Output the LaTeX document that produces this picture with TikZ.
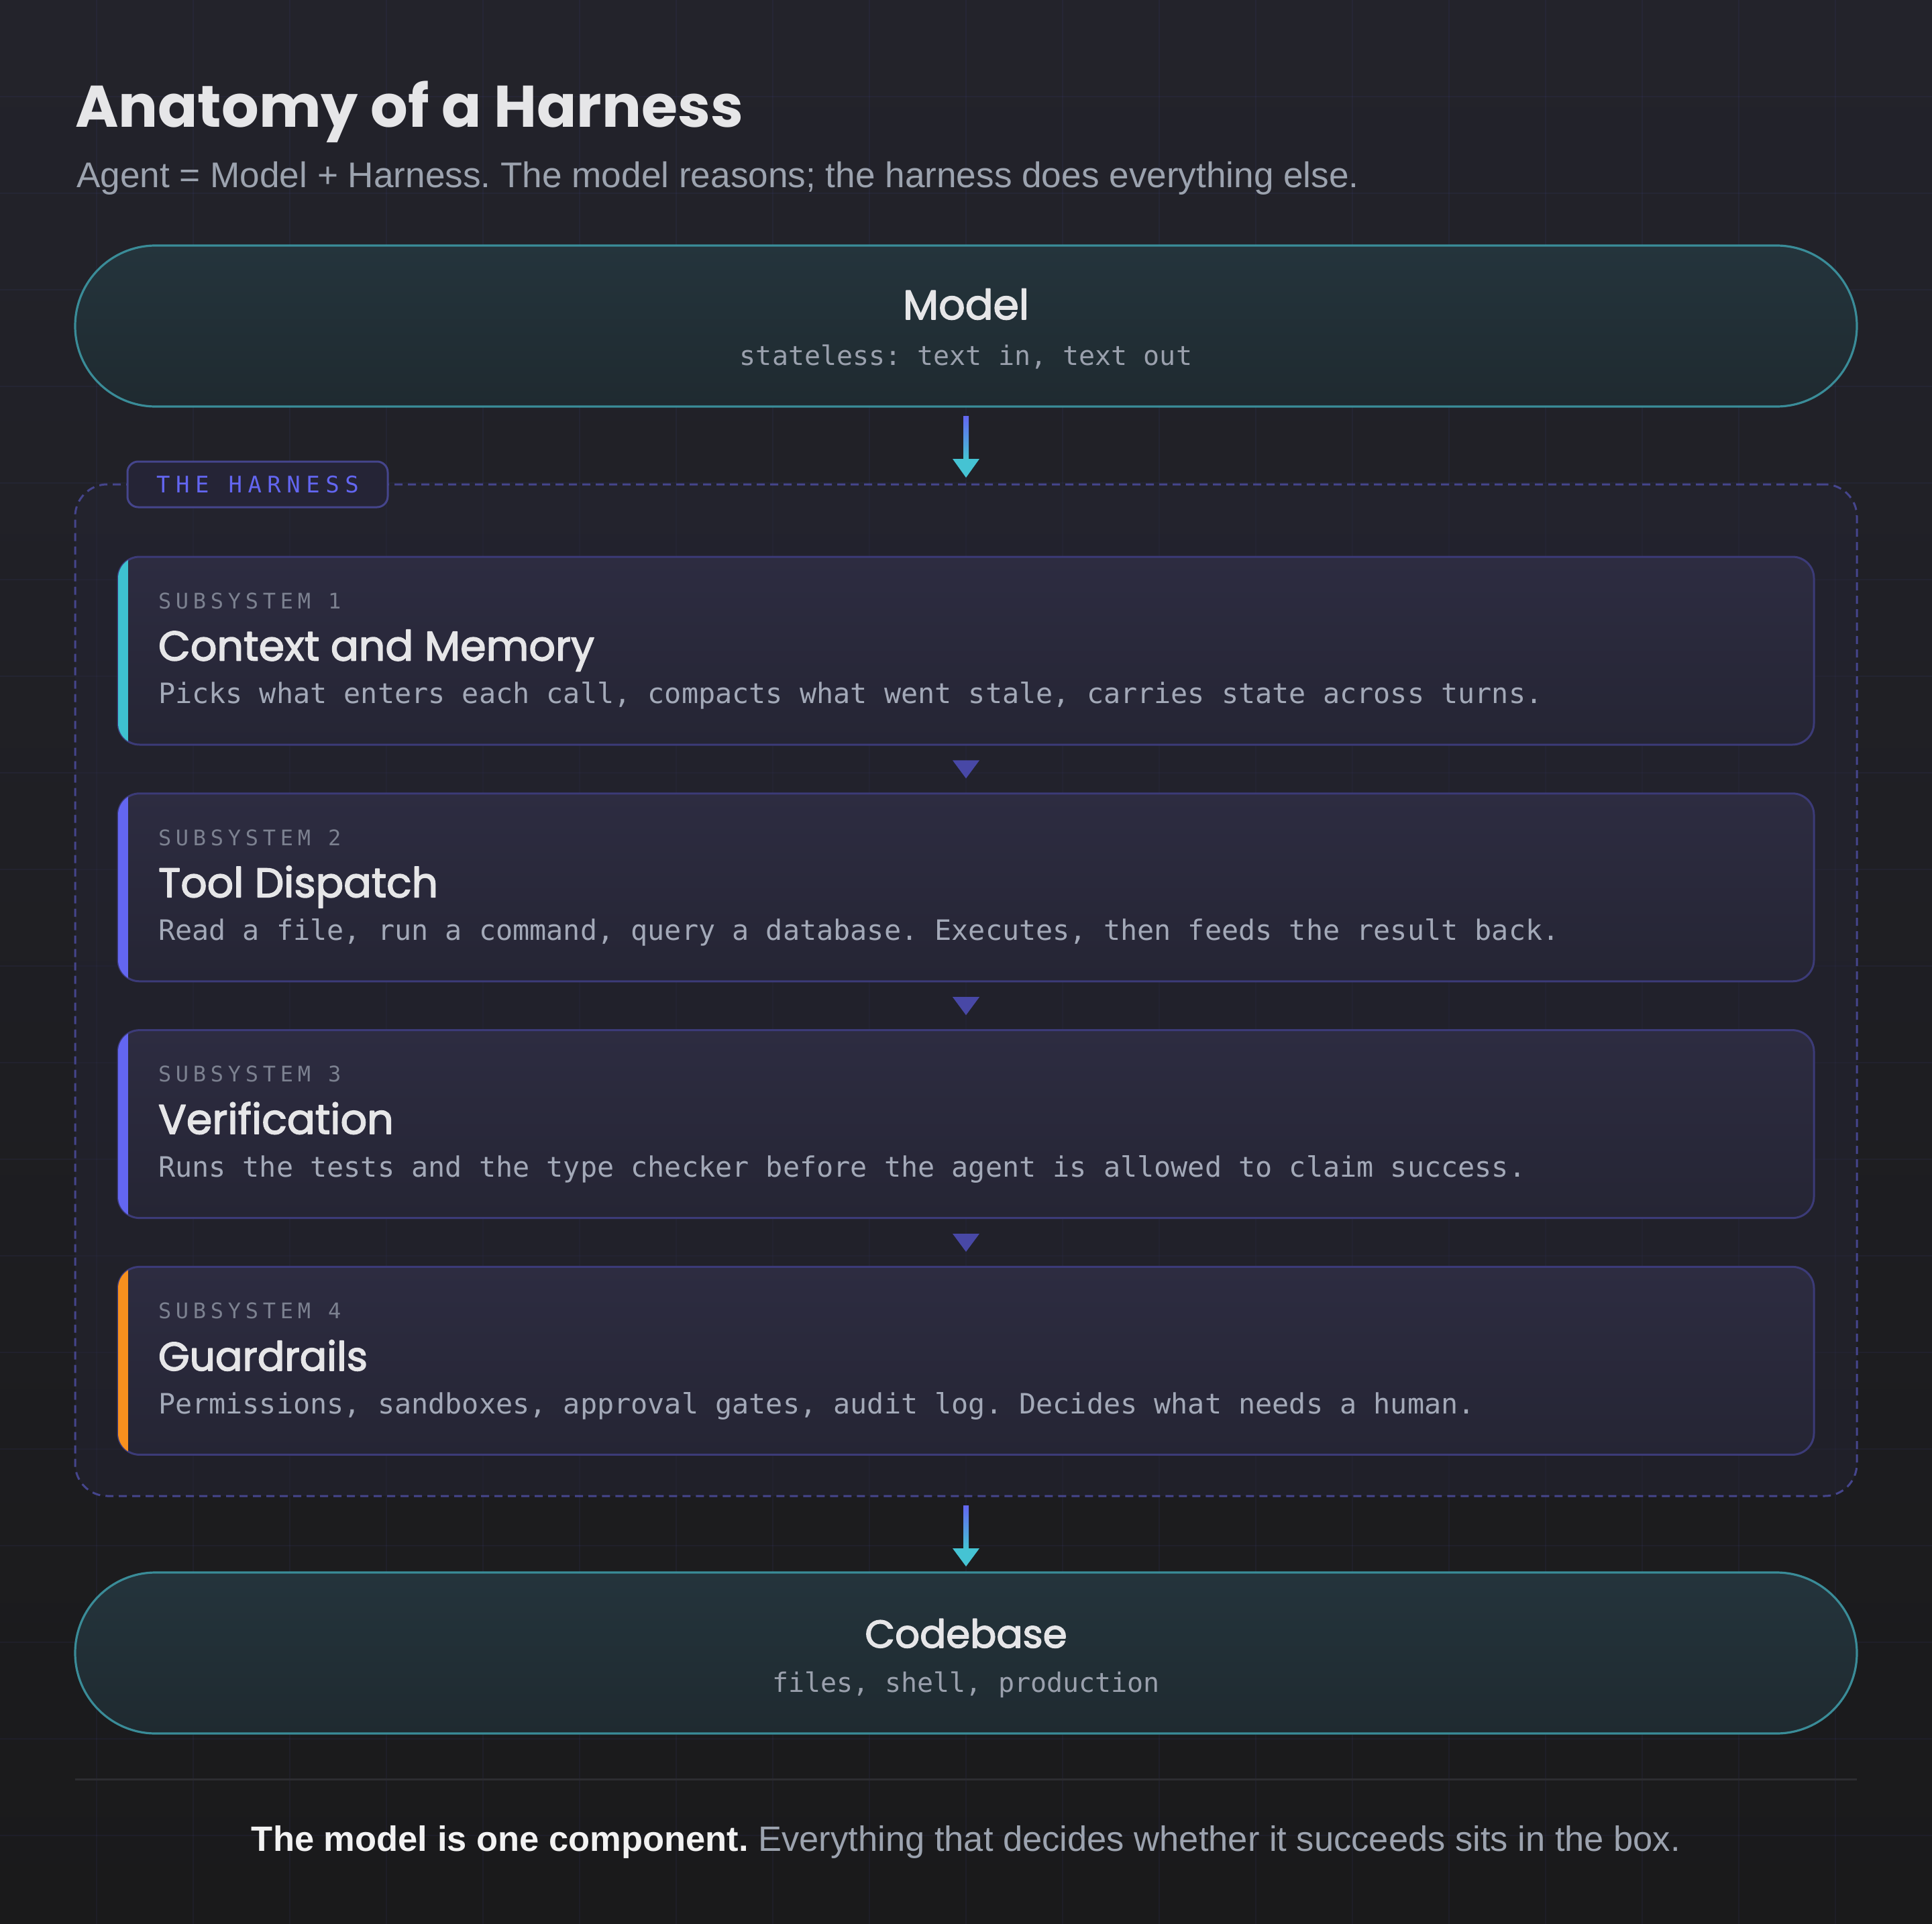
\documentclass[tikz,border=0pt]{standalone}
\usepackage{fontspec}
\usepackage{graphicx}
\usetikzlibrary{calc}
\setmainfont{Liberation Sans}
\newfontfamily\pop{Poppins}
\newfontfamily\popmed[FakeBold=2.5]{Poppins}
\newfontfamily\mono{DejaVu Sans Mono}
\newfontfamily\monols[LetterSpace=21]{DejaVu Sans Mono}
\newfontfamily\monotag[LetterSpace=25]{DejaVu Sans Mono}
\frenchspacing

\definecolor{bgtop}{HTML}{23232B}
\definecolor{bgbot}{HTML}{1A1A1B}
\definecolor{titlec}{HTML}{E6E6E8}
\definecolor{subc}{HTML}{9CA3AF}
\definecolor{pilltop}{HTML}{24343C}
\definecolor{pillbot}{HTML}{1F2A30}
\definecolor{pillline}{HTML}{3A8C98}
\definecolor{dashc}{HTML}{45458C}
\definecolor{harnfill}{HTML}{262636}
\definecolor{tagfill}{HTML}{252436}
\definecolor{indigo}{HTML}{6366F1}
\definecolor{boxtop}{HTML}{2D2C41}
\definecolor{boxbot}{HTML}{252534}
\definecolor{boxline}{HTML}{3C3B78}
\definecolor{labelc}{HTML}{7C8190}
\definecolor{descc}{HTML}{A3A9B8}
\definecolor{monoc}{HTML}{9AA0AD}
\definecolor{acccyan}{HTML}{3EC1D0}
\definecolor{accorg}{HTML}{F7901E}
\definecolor{arrcyan}{HTML}{45C3D3}
\definecolor{smalltri}{HTML}{4848A6}
\definecolor{footline}{HTML}{2D2D31}
\definecolor{footw}{HTML}{F2F2F2}

\newcommand{\subsysbox}[7]{%
  \node[subbox, anchor=north] (#1) at (720,#2) {};
  \draw[boxln] (#1.north west) rectangle (#1.south east);
  \begin{scope}
    \clip[rounded corners=16pt] (#1.north west) rectangle (#1.south east);
    \fill[#3] ([xshift=-1pt]#1.north west) rectangle ([xshift=7.5pt]#1.south west);
  \end{scope}
  \node[txt, anchor=base west, text=labelc] (#1-label) at ($(#1.north west)+(30,38.6)$) {\fontsize{16}{16}\monols SUBSYSTEM #4};
  \node[txt, anchor=base west, text=titlec] (#1-title) at ($(#1.north west)+(30,77.3)$) {\resizebox{#6pt}{!}{\fontsize{30}{30}\popmed #5}};
  \node[txt, anchor=base west, text=descc] (#1-desc) at ($(#1.north west)+(30,109.4)$) {\fontsize{20.9}{21}\mono #7};
}

\begin{document}
\begin{tikzpicture}[x=1pt,y=-1pt,line join=round,
  txt/.style={inner sep=0pt,outer sep=0pt},
  gridln/.style={draw=indigo,draw opacity=0.06,line width=1pt},
  pill/.style={draw=pillline,line width=1.6pt,rounded corners=60pt,top color=pilltop,bottom color=pillbot,minimum width=1328pt,minimum height=120pt,inner sep=0pt,outer sep=0pt},
  harnessbox/.style={draw=dashc,line width=1.5pt,dash pattern=on 6pt off 4pt,rounded corners=24pt,fill=harnfill,fill opacity=0.45,minimum width=1328pt,minimum height=754pt,inner sep=0pt,outer sep=0pt},
  tagbox/.style={draw=dashc,line width=1.5pt,fill=tagfill,rounded corners=8pt,minimum width=194pt,minimum height=34pt,inner sep=0pt,outer sep=0pt,text=indigo},
  subbox/.style={rounded corners=16pt,top color=boxtop,bottom color=boxbot,minimum width=1264pt,minimum height=140pt,inner sep=0pt,outer sep=0pt},
  boxln/.style={draw=boxline,line width=1.5pt,rounded corners=16pt},
  headtri/.style={fill=arrcyan},
  minitri/.style={fill=smalltri},
  footrule/.style={draw=footline,line width=1.5pt}
]
% background
\shade[top color=bgtop,bottom color=bgbot] (0,0) rectangle (1440,1434);
\useasboundingbox (0,0) rectangle (1440,1434);
\foreach \k in {1,...,19} { \draw[gridln] (\k*72,0) -- (\k*72,1434); }
\foreach \k in {1,...,19} { \draw[gridln] (0,\k*72) -- (1440,\k*72); }

% heading
\node[txt,anchor=base west,text=titlec] (title) at (56,94.6) {\resizebox{498pt}{!}{\fontsize{44}{44}\pop\bfseries Anatomy of a Harness}};
\node[txt,anchor=base west,text=subc] (subtitle) at (57,139.6) {\resizebox{956pt}{!}{\fontsize{26}{26}\selectfont Agent = Model + Harness. The model reasons; the harness does everything else.}};

% model
\node[pill] (model) at (720,243) {};
\node[txt,anchor=base,text=titlec] (model-t) at (720,238) {\resizebox{94pt}{!}{\fontsize{32}{32}\popmed Model}};
\node[txt,anchor=base,text=monoc] (model-s) at (720,272) {\fontsize{20}{20}\mono stateless: text in, text out};

% harness
\node[harnessbox] (harness) at (720,738) {};
\node[tagbox] (tag) at (192,361) {\fontsize{17}{17}\monotag THE HARNESS};

\subsysbox{b1}{415}{acccyan}{1}{Context and Memory}{325}{Picks what enters each call, compacts what went stale, carries state across turns.}
\subsysbox{b2}{591.4}{indigo}{2}{Tool Dispatch}{208.5}{Read a file, run a command, query a database. Executes, then feeds the result back.}
\subsysbox{b3}{767.8}{indigo}{3}{Verification}{175.4}{Runs the tests and the type checker before the agent is allowed to claim success.}
\subsysbox{b4}{944.2}{accorg}{4}{Guardrails}{156}{Permissions, sandboxes, approval gates, audit log. Decides what needs a human.}

\foreach \a/\b in {b1/b2,b2/b3,b3/b4} {
  \coordinate (m-\a) at ($(\a.south)!0.5!(\b.north)$);
  \fill[minitri] ($(m-\a)+(-10,-6.5)$) -- ($(m-\a)+(10,-6.5)$) -- ($(m-\a)+(0,7)$) -- cycle;
}

% codebase
\node[pill] (codebase) at (720,1232) {};
\node[txt,anchor=base,text=titlec] (codebase-t) at (720,1228) {\resizebox{150.6pt}{!}{\fontsize{32}{32}\popmed Codebase}};
\node[txt,anchor=base,text=monoc] (codebase-s) at (720,1261) {\fontsize{20}{20}\mono files, shell, production};

% arrows
\shade[top color=indigo,bottom color=arrcyan] ($(model.south)+(-2,7)$) rectangle ($(harness.north)+(2,-19)$);
\fill[headtri] ($(harness.north)+(-10,-19)$) -- ($(harness.north)+(10,-19)$) -- ($(harness.north)+(0,-5)$) -- cycle;
\shade[top color=indigo,bottom color=arrcyan] ($(harness.south)+(-2,7)$) rectangle ($(codebase.north)+(2,-18)$);
\fill[headtri] ($(codebase.north)+(-10,-18)$) -- ($(codebase.north)+(10,-18)$) -- ($(codebase.north)+(0,-4.5)$) -- cycle;

% footer
\coordinate (fl-l) at (56,1326);
\coordinate (fl-r) at (1384,1326);
\draw[footrule] (fl-l) -- (fl-r);
\node[txt,anchor=base,text=subc] (footer) at (720,1379.5) {\resizebox{1065pt}{!}{\fontsize{27}{27}\selectfont\textcolor{footw}{\bfseries The model is one component.} Everything that decides whether it succeeds sits in the box.}};
\end{tikzpicture}
\end{document}
